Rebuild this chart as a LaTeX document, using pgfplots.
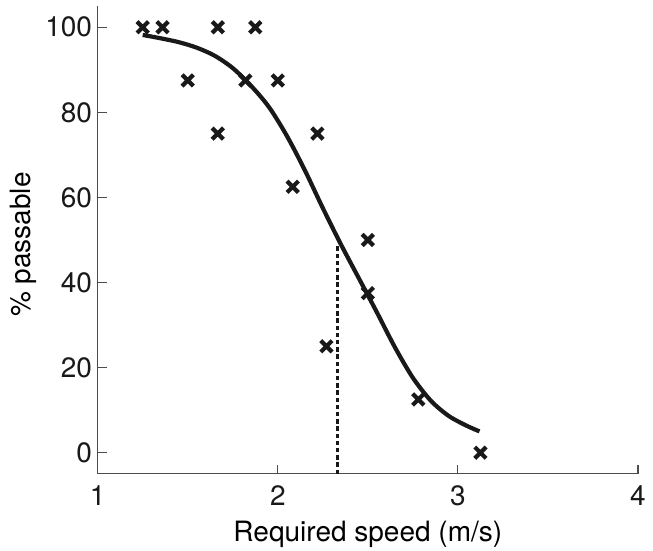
\documentclass[border=0pt]{standalone}
\usepackage{fontspec}
\setmainfont{TeX Gyre Heros}
\usepackage{pgfplots}
\pgfplotsset{compat=1.18}
\begin{document}
\fontsize{14}{17}\selectfont
\begin{tikzpicture}
\begin{axis}[
  name=ax,
  scale only axis,
  width=270.2pt, height=234pt,
  xmin=1, xmax=4, ymin=-5, ymax=105,
  axis x line*=bottom, axis y line*=left,
  axis line style={-, black!70, line width=0.55pt},
  xtick={1,2,3,4}, ytick={0,20,40,60,80,100},
  tick align=inside, major tick length=4.5pt,
  tick style={black!70, line width=0.55pt},
  /pgf/number format/assume math mode=true,
  ticklabel style={font=\fontsize{14}{17}\selectfont, text=black!90},
  xticklabel style={yshift=-1pt},
  yticklabel style={xshift=2pt},
  xlabel={Required speed (m/s)},
  ylabel={\% passable},
  label style={font=\fontsize{14}{17}\selectfont, text=black!90},
  every axis x label/.style={at={(axis description cs:0.5,0)}, anchor=base, yshift=-34pt},
  every axis y label/.style={at={(axis description cs:0,0.49)}, anchor=center, xshift=-37pt, rotate=90},
  clip=false,
]
\addplot[black!90, line width=1.1pt, dash pattern=on 2.2pt off 1.4pt] coordinates {(2.332,-5) (2.332,49)};
\addplot[black!90, line width=2.1pt, smooth] coordinates {
(1.25,98.2) (1.35,97.4) (1.45,96.5) (1.55,95.2) (1.65,93.3) (1.75,90.4)
(1.85,86.3) (1.95,81.3) (2.05,74.5) (2.15,66.4) (2.25,57.5) (2.35,49.0)
(2.45,41.0) (2.55,33.0) (2.65,24.8) (2.75,17.6) (2.85,12.2) (2.95,8.6)
(3.05,6.3) (3.12,5.0)
};
\addplot[only marks, mark=x, mark size=4pt, mark options={black!90, line width=2.1pt}] coordinates {
(1.25,100) (1.36,100) (1.5,87.5) (1.667,100) (1.667,75) (1.82,87.5)
(1.875,100) (2.0,87.5) (2.083,62.5) (2.22,75) (2.27,25) (2.5,50)
(2.5,37.5) (2.78,12.5) (3.125,0)
};
\end{axis}
\pgfresetboundingbox
\path[use as bounding box] ([xshift=-48.85pt,yshift=-38.5pt]ax.south west) rectangle ([xshift=7.5pt,yshift=3pt]ax.north east);
\end{tikzpicture}
\end{document}
